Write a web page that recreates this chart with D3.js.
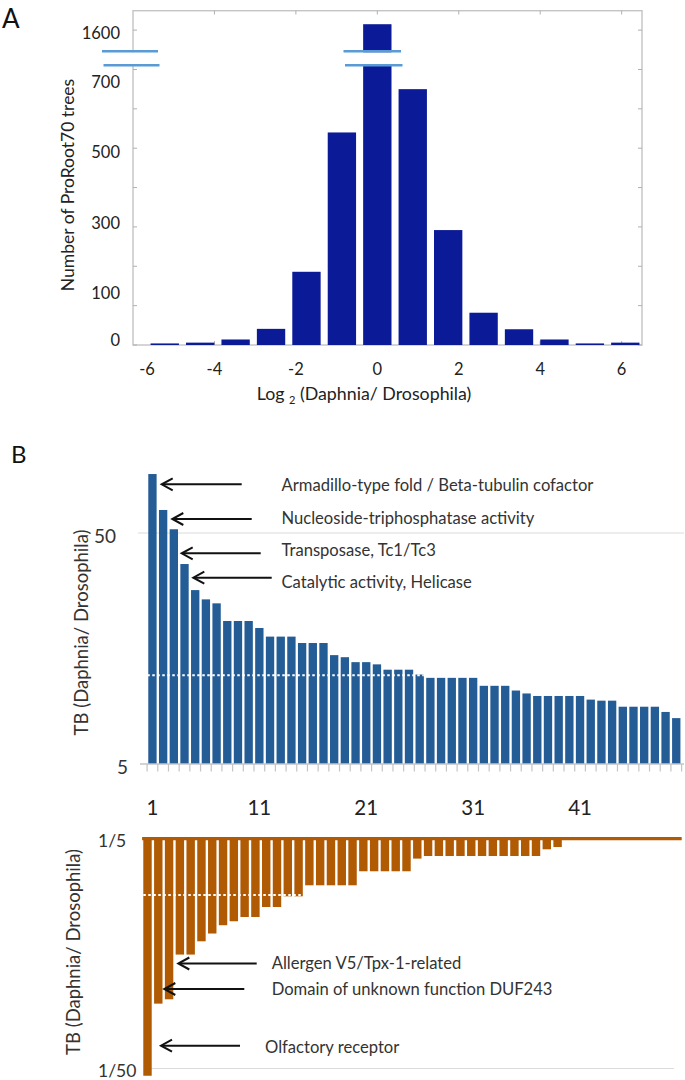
<!DOCTYPE html>
<html>
<head>
<meta charset="utf-8">
<script src="https://cdn.jsdelivr.net/npm/d3@7"></script>
<style>
  html, body { margin: 0; padding: 0; background: #fff; }
  svg { display: block; font-family: 'Lato', 'Open Sans', sans-serif; }
</style>
</head>
<body>
<svg id="chart" width="685" height="1080"></svg>
<script>
// ---------------- DATA ----------------
// Panel A: histogram of log2(Daphnia/Drosophila)
const histBinCenters = [-5.22, -4.35, -3.48, -2.61, -1.74, -0.87, 0, 0.87, 1.74, 2.61, 3.48, 4.35, 5.22, 6.09];
const histCounts     = [4, 6, 14, 41, 186, 540, 1615, 650, 292, 82, 40, 14, 4, 6];
const histYTickValues = [0, 100, 200, 300, 400, 500, 600, 700, 1600];
const histYTickLabels = [0, 100, 300, 500, 700, 1600];
const histXTickValues = [-6, -4, -2, 0, 2, 4, 6];

// Panel B (top): TB ratio > 1 (log scale), 50 ranked families
const topRanks  = d3.range(1, 51);
const topValues = [90.0, 62.9, 51.9, 36.7, 28.3, 25.8, 24.8, 20.8, 20.8, 20.8,
                   19.4, 17.8, 17.8, 17.8, 16.7, 16.7, 16.7, 14.8, 14.5, 13.8,
                   13.8, 13.5, 12.8, 12.8, 12.8, 12.2, 11.8, 11.8, 11.8, 11.8,
                   11.8, 10.9, 10.9, 10.9, 10.4, 10.1, 9.85, 9.85, 9.85, 9.85,
                   9.85, 9.5, 9.4, 9.4, 8.85, 8.85, 8.85, 8.85, 8.4, 7.9];
const topThreshold = 12.1;
const topXTickLabels = [1, 11, 21, 31, 41];
const topYTickValues = [5, 50];

// Panel B (bottom): TB ratio < 1 (log scale)
const bottomRanks  = d3.range(1, 51);
const bottomValues = [0.0186, 0.0383, 0.0400, 0.0626, 0.0626, 0.0715, 0.0773, 0.0840, 0.0874, 0.0912,
                      0.0912, 0.1008, 0.1008, 0.1122, 0.1122, 0.1253, 0.1253, 0.1253, 0.1253, 0.1253,
                      0.1442, 0.1442, 0.1442, 0.1442, 0.1442, 0.1637, 0.1680, 0.1680, 0.1680, 0.1680,
                      0.1680, 0.1680, 0.1680, 0.1680, 0.1680, 0.1680, 0.1680, 0.1797, 0.1838];
const bottomThreshold = 0.1136;
const bottomYTickValues = [0.2, 0.02];
const bottomYTickLabels = ["1/5", "1/50"];

const topAnnotations = ["Armadillo-type fold / Beta-tubulin cofactor",
                        "Nucleoside-triphosphatase activity",
                        "Transposase, Tc1/Tc3",
                        "Catalytic activity, Helicase"];
const bottomAnnotations = ["Allergen V5/Tpx-1-related",
                           "Domain of unknown function DUF243",
                           "Olfactory receptor"];

// ---------------- LAYOUT / STYLE ----------------
const svg = d3.select("#chart");
const ANN_FONT = 16.6;

// annotation layout (arrow tip x, tail x, arrow y, text x, text baseline y)
const topAnnLayout = [
  {tip: 161.7, tail: 241.7, y: 484.3, tx: 281.5, ty: 490.5},
  {tip: 172.3, tail: 251.7, y: 519.0, tx: 281.5, ty: 524.0},
  {tip: 181.7, tail: 260.7, y: 553.3, tx: 281.5, ty: 556.0},
  {tip: 193.3, tail: 271.7, y: 577.7, tx: 281.5, ty: 588.0}
];
const bottomAnnLayout = [
  {tip: 178.3, tail: 256.7, y: 963.5, tx: 271.7, ty: 969.0},
  {tip: 164.3, tail: 244.3, y: 989.0, tx: 271.7, ty: 994.5},
  {tip: 161.0, tail: 240.0, y: 1045.7, tx: 265.0, ty: 1052.7}
];

function arrow(g, a) {
  g.append("line").attr("x1", a.tail).attr("x2", a.tip + 1).attr("y1", a.y).attr("y2", a.y)
    .attr("stroke", "#111").attr("stroke-width", 2);
  g.append("polyline")
    .attr("points", `${a.tip + 11},${a.y - 6} ${a.tip},${a.y} ${a.tip + 11},${a.y + 6}`)
    .attr("fill", "none").attr("stroke", "#111").attr("stroke-width", 2);
}

// ================= PANEL A =================
const gA = svg.append("g");
const xA = d3.scaleLinear().domain([-6, 6.5]).range([133, 642]);
const yA = d3.scaleLinear().domain([0, 750, 1550, 1800]).range([345, 49.8, 49.8, -48.6]);
const binW = histBinCenters[1] - histBinCenters[0];
const barWA = 0.8 * binW;

// frame
gA.append("rect").attr("x", xA(-6)).attr("y", 10.7)
  .attr("width", xA(6.5) - xA(-6)).attr("height", yA(0) - 10.7)
  .attr("fill", "none").attr("stroke", "#c4c4c4").attr("stroke-width", 1.4);

// ticks (inward)
histYTickValues.forEach(v => {
  gA.append("line").attr("x1", xA(-6)).attr("x2", xA(-6) + 4).attr("y1", yA(v)).attr("y2", yA(v))
    .attr("stroke", "#b0b0b0").attr("stroke-width", 1);
  gA.append("line").attr("x1", xA(6.5)).attr("x2", xA(6.5) - 4).attr("y1", yA(v)).attr("y2", yA(v))
    .attr("stroke", "#b0b0b0").attr("stroke-width", 1);
});
histXTickValues.slice(1).forEach(v => {
  gA.append("line").attr("x1", xA(v)).attr("x2", xA(v)).attr("y1", 10.7).attr("y2", 14.5)
    .attr("stroke", "#b0b0b0").attr("stroke-width", 1);
  gA.append("line").attr("x1", xA(v)).attr("x2", xA(v)).attr("y1", yA(0)).attr("y2", yA(0) - 4)
    .attr("stroke", "#b0b0b0").attr("stroke-width", 1);
});

// bars
gA.selectAll("rect.hbar").data(histBinCenters).join("rect").attr("class", "hbar")
  .attr("x", (c) => xA(c - barWA / 2))
  .attr("width", xA(barWA) - xA(0))
  .attr("y", (c, i) => yA(histCounts[i]))
  .attr("height", (c, i) => yA(0) - yA(histCounts[i]))
  .attr("fill", "#0b1a97");

// axis break marks
const breakTop = 51.3, breakBot = 65.2;
[[102, 158], [343.5, 401]].forEach(([x0, x1]) => {
  gA.append("rect").attr("x", x0).attr("y", breakTop + 1).attr("width", x1 - x0)
    .attr("height", breakBot - breakTop - 2).attr("fill", "#fff");
  gA.append("line").attr("x1", x0).attr("x2", x1).attr("y1", breakTop).attr("y2", breakTop)
    .attr("stroke", "#5b9bd5").attr("stroke-width", 2.4);
  gA.append("line").attr("x1", x0 + 1.5).attr("x2", x1 + 1.5).attr("y1", breakBot).attr("y2", breakBot)
    .attr("stroke", "#5b9bd5").attr("stroke-width", 2.4);
});

// y tick labels (hand-placed in the original)
const yLabelNudge = {0: -5, 100: -12.5, 300: -4, 500: 4, 700: 12.5, 1600: 3};
gA.selectAll("text.ylab").data(histYTickLabels).join("text").attr("class", "ylab")
  .attr("x", 120).attr("y", d => yA(d) + yLabelNudge[d])
  .attr("text-anchor", "end").attr("dominant-baseline", "central")
  .attr("font-size", 16.5).attr("fill", "#222").text(d => d);

// x tick labels
const xLabelNudge = {"-6": 14};
gA.selectAll("text.xlab").data(histXTickValues).join("text").attr("class", "xlab")
  .attr("x", d => xA(d) + (xLabelNudge[d] || 0)).attr("y", 369)
  .attr("text-anchor", "middle").attr("dominant-baseline", "central")
  .attr("font-size", 16.5).attr("fill", "#222").text(d => d);

// axis titles
const xt = gA.append("text").attr("x", 364).attr("y", 400).attr("text-anchor", "middle")
  .attr("font-size", 17.8).attr("fill", "#222");
xt.append("tspan").text("Log ");
xt.append("tspan").attr("font-size", 11).attr("dy", 4).text("2");
xt.append("tspan").attr("dy", -4).text(" (Daphnia/ Drosophila)");

gA.append("text").attr("transform", "translate(67,185) rotate(-90)")
  .attr("text-anchor", "middle").attr("dominant-baseline", "central")
  .attr("font-size", 17.5).attr("fill", "#222").text("Number of ProRoot70 trees");

svg.append("text").attr("x", 2).attr("y", 28).attr("font-size", 26).attr("fill", "#111").text("A");
svg.append("text").attr("x", 11).attr("y", 463).attr("font-size", 24).attr("fill", "#111").text("B");

// ================= PANEL B TOP =================
const gB = svg.append("g");
const xB = d3.scaleBand().domain(topRanks).range([147.1, 681.6]).paddingInner(0.22).paddingOuter(0.11);
const yB = d3.scaleLog().domain([5, 50]).range([764, 533]);

gB.append("line").attr("x1", 138).attr("x2", 684).attr("y1", yB(50)).attr("y2", yB(50))
  .attr("stroke", "#dcdcdc").attr("stroke-width", 1.2);

gB.selectAll("rect.tb").data(topRanks).join("rect").attr("class", "tb")
  .attr("x", d => xB(d)).attr("width", xB.bandwidth())
  .attr("y", (d, i) => yB(topValues[i]))
  .attr("height", (d, i) => yB(5) - yB(topValues[i]))
  .attr("fill", "#245c96");

// baseline and category ticks
gB.append("line").attr("x1", 140).attr("x2", 684).attr("y1", yB(5)).attr("y2", yB(5))
  .attr("stroke", "#c4c4c4").attr("stroke-width", 1.3);
d3.range(0, topRanks.length + 1).forEach(i => {
  const x = xB.range()[0] + i * xB.step();
  gB.append("line").attr("x1", x).attr("x2", x).attr("y1", yB(5)).attr("y2", yB(5) + 7.5)
    .attr("stroke", "#c4c4c4").attr("stroke-width", 1.2);
});

// threshold dotted line
const topAbove = topRanks.filter((d, i) => topValues[i] >= topThreshold);
gB.append("line").attr("x1", xB(topAbove[0]) - 1)
  .attr("x2", xB(topAbove[topAbove.length - 1]) + xB.bandwidth())
  .attr("y1", yB(topThreshold)).attr("y2", yB(topThreshold))
  .attr("stroke", "#fff").attr("stroke-width", 2).attr("stroke-dasharray", "2.5,2.5");

// y labels
const topYLabelX = {5: 128, 50: 116};
gB.selectAll("text.yl").data(topYTickValues).join("text").attr("class", "yl")
  .attr("x", d => topYLabelX[d]).attr("y", d => yB(d) + 2)
  .attr("text-anchor", "end").attr("dominant-baseline", "central")
  .attr("font-size", 19).attr("fill", "#333").text(d => d);

// x labels
gB.selectAll("text.xl").data(topXTickLabels).join("text").attr("class", "xl")
  .attr("x", d => xB(d) + xB.bandwidth() / 2).attr("y", 807)
  .attr("text-anchor", "middle").attr("dominant-baseline", "central")
  .attr("font-size", 20.5).attr("fill", "#222").text(d => d);

gB.append("text").attr("transform", "translate(81,632.5) rotate(-90)")
  .attr("text-anchor", "middle").attr("dominant-baseline", "central")
  .attr("font-size", 18.5).attr("fill", "#333").text("TB (Daphnia/ Drosophila)");

topAnnotations.forEach((t, i) => {
  const a = topAnnLayout[i];
  arrow(gB, a);
  gB.append("text").attr("x", a.tx).attr("y", a.ty).attr("font-size", ANN_FONT)
    .attr("fill", "#333").text(t);
});

// ================= PANEL B BOTTOM =================
const gC = svg.append("g");
const xC = d3.scaleBand().domain(bottomRanks).range([142.1, 681.7]).paddingInner(0.22).paddingOuter(0.11);
const yC = d3.scaleLog().domain([0.2, 0.02]).range([838.6, 1068.5]);

gC.append("line").attr("x1", 150).attr("x2", 674).attr("y1", yC(0.02)).attr("y2", yC(0.02))
  .attr("stroke", "#dcdcdc").attr("stroke-width", 1.2);

gC.selectAll("rect.bb").data(bottomValues).join("rect").attr("class", "bb")
  .attr("x", (v, i) => xC(bottomRanks[i])).attr("width", xC.bandwidth())
  .attr("y", yC(0.2))
  .attr("height", v => yC(v) - yC(0.2))
  .attr("fill", "#b05a04");

gC.append("line").attr("x1", xC.range()[0]).attr("x2", xC.range()[1])
  .attr("y1", yC(0.2)).attr("y2", yC(0.2))
  .attr("stroke", "#b05a04").attr("stroke-width", 3.4);

// threshold dotted line
const botBelow = bottomRanks.filter((d, i) => i < bottomValues.length && bottomValues[i] <= bottomThreshold);
gC.append("line").attr("x1", xC(botBelow[0]))
  .attr("x2", xC(botBelow[botBelow.length - 1]) + xC.bandwidth())
  .attr("y1", yC(bottomThreshold)).attr("y2", yC(bottomThreshold))
  .attr("stroke", "#fff").attr("stroke-width", 2).attr("stroke-dasharray", "2.5,2.5");

gC.selectAll("text.yl").data(bottomYTickValues).join("text").attr("class", "yl")
  .attr("x", 98).attr("y", d => yC(d) + 2)
  .attr("text-anchor", "start").attr("dominant-baseline", "central")
  .attr("font-size", 17.5).attr("fill", "#333").text((d, i) => bottomYTickLabels[i]);

gC.append("text").attr("transform", "translate(73,952) rotate(-90)")
  .attr("text-anchor", "middle").attr("dominant-baseline", "central")
  .attr("font-size", 18.5).attr("fill", "#333").text("TB (Daphnia/ Drosophila)");

bottomAnnotations.forEach((t, i) => {
  const a = bottomAnnLayout[i];
  arrow(gC, a);
  gC.append("text").attr("x", a.tx).attr("y", a.ty).attr("font-size", ANN_FONT)
    .attr("fill", "#333").text(t);
});
</script>
</body>
</html>
